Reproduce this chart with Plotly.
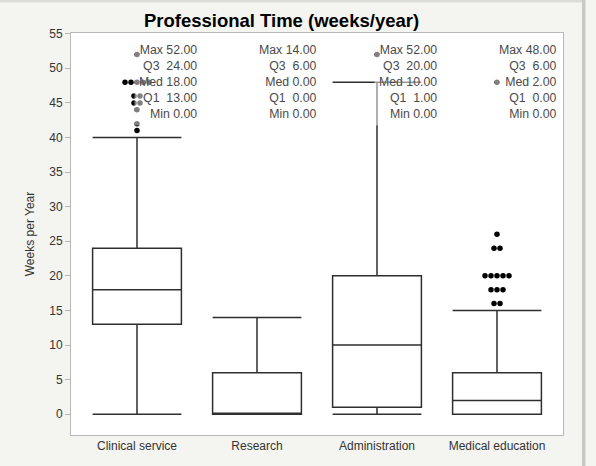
import plotly.graph_objects as go

categories = ["Clinical service", "Research", "Administration", "Medical education"]
mins = [0, 0, 0, 0]
q1s = [13, 0, 1, 0]
medians = [18, 0, 10, 2]
q3s = [24, 6, 20, 6]
maxs = [52, 14, 52, 48]
upper_whiskers = [40, 14, 48, 15]
outliers = [
    [41, 42, 44, 45, 45, 46, 46, 48, 48, 48, 48, 48, 52],
    [],
    [52],
    [16, 16, 18, 18, 18, 20, 20, 20, 20, 20, 24, 24, 26, 48],
]
title_text = "Professional Time (weeks/year)"
y_title = "Weeks per Year"
y_ticks = [0, 5, 10, 15, 20, 25, 30, 35, 40, 45, 50, 55]

W, H = 596, 466
ML, MR, MT, MB = 71, 33, 33, 31
FONT = "Liberation Sans, Arial, Helvetica, sans-serif"
DOT_STEP = 0.05  # horizontal spacing between tied outlier dots (category units)

fig = go.Figure()

fig.add_trace(go.Box(
    x=list(range(len(categories))),
    q1=q1s, median=medians, q3=q3s,
    lowerfence=mins, upperfence=upper_whiskers,
    width=0.74, whiskerwidth=1,
    fillcolor="white",
    line=dict(color="#2e2e2e", width=1.5),
    boxpoints=False,
    hoverinfo="skip",
    showlegend=False,
))

# outlier dots, ties spread side by side
ox, oy = [], []
for i, vals in enumerate(outliers):
    counts = {}
    for v in vals:
        counts[v] = counts.get(v, 0) + 1
    for v, n in counts.items():
        for k in range(n):
            ox.append(i + (k - (n - 1) / 2) * DOT_STEP)
            oy.append(v)
fig.add_trace(go.Scatter(
    x=ox, y=oy, mode="markers",
    marker=dict(color="black", size=5.5, line=dict(width=0)),
    hoverinfo="skip", showlegend=False,
))

# summary text blocks
nb = "\u00a0"
for i in range(len(categories)):
    lines = [
        f"Max{nb}{maxs[i]:.2f}",
        f"Q3{nb}{nb}{q3s[i]:.2f}",
        f"Med{nb}{medians[i]:.2f}",
        f"Q1{nb}{nb}{q1s[i]:.2f}",
        f"Min{nb}{mins[i]:.2f}",
    ]
    fig.add_annotation(
        x=i + 0.5, xref="x", xanchor="right", xshift=5,
        y=1, yref="paper", yanchor="top", yshift=-5,
        text="<br>".join(lines), align="right", showarrow=False,
        font=dict(family=FONT, size=12.3, color="#4a4a4a"),
        bgcolor="rgba(255,255,255,0.5)", borderpad=4,
    )

# page decorations (background frame)
pw = W - ML - MR
ph = H - MT - MB
def px2x(p):
    return (p - ML) / pw
def py2y(p):
    return 1 - (p - MT) / ph
fig.add_shape(type="rect", xref="paper", yref="paper",
              x0=px2x(582), x1=px2x(585.5), y0=py2y(H), y1=py2y(0),
              fillcolor="#c9c9c6", line=dict(width=0), layer="above")
fig.add_shape(type="rect", xref="paper", yref="paper",
              x0=px2x(0), x1=px2x(582), y0=py2y(2.5), y1=py2y(0),
              fillcolor="#dcdcd9", line=dict(width=0), layer="above")

fig.update_layout(
    width=W, height=H,
    margin=dict(l=ML, r=MR, t=MT, b=MB),
    paper_bgcolor="#f4f4f0",
    plot_bgcolor="white",
    font=dict(family=FONT, size=12, color="#333333"),
    title=dict(text=f"<b>{title_text}</b>", x=281.5 / W, xref="container", xanchor="center",
               y=1 - 20.5 / H, yref="container", yanchor="middle",
               font=dict(family=FONT, size=18.5, color="black")),
    xaxis=dict(range=[-0.55, 3.55], tickvals=list(range(len(categories))), ticktext=categories,
               showgrid=False, zeroline=False, showline=True, linecolor="#b8b8b8", linewidth=1,
               mirror=True, ticks="", tickfont=dict(size=12, color="#333333")),
    yaxis=dict(range=[-3, 55.1], tickvals=y_ticks, showgrid=False, zeroline=False,
               showline=True, linecolor="#b8b8b8", linewidth=1, mirror=True,
               ticks="outside", ticklen=5, tickcolor="#b8b8b8",
               tickfont=dict(size=12, color="#333333"),
               title=dict(text=y_title, font=dict(size=12, color="#333333"), standoff=12)),
)

fig.write_html("out.html", config={"displayModeBar": False},
               post_script="document.body.style.margin='0';document.body.style.background='#f4f4f0';")
